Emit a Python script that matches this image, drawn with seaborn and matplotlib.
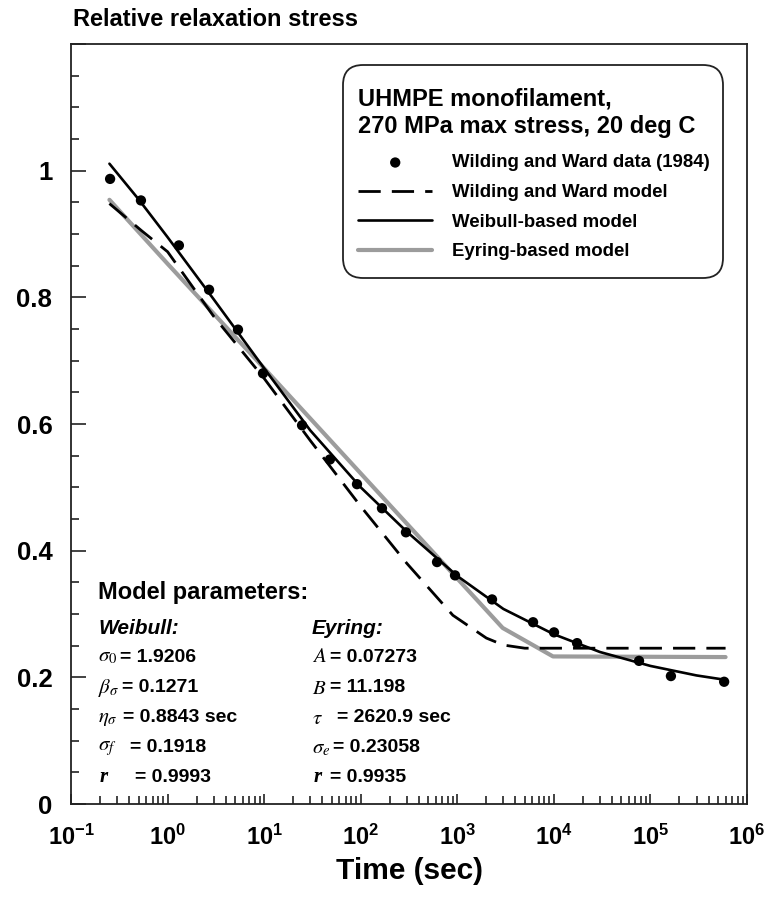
import numpy as np
import pandas as pd
import matplotlib
matplotlib.use('Agg')
import matplotlib.pyplot as plt
import seaborn as sns
from matplotlib.patches import FancyBboxPatch
from matplotlib.transforms import IdentityTransform
from matplotlib.ticker import FixedLocator, FixedFormatter, LogLocator, MultipleLocator, NullFormatter

# %% data
# Wilding and Ward (1984) measurements
data_time = [0.254, 0.53, 1.31, 2.69, 5.36, 9.73, 24.7, 48, 91.5, 166, 294, 617, 947,
             2290, 6090, 10040, 17400, 76200, 163000, 580000]
data_stress = [0.987, 0.953, 0.882, 0.812, 0.749, 0.680, 0.598, 0.544, 0.505, 0.467, 0.429,
               0.382, 0.361, 0.323, 0.287, 0.271, 0.254, 0.226, 0.202, 0.193]

# Wilding and Ward model (dashed)
ww_time = [0.25, 0.54, 1, 3, 10, 30, 100, 300, 900, 2000, 3000, 5000, 6e5]
ww_stress = [0.948, 0.905, 0.872, 0.770, 0.672, 0.574, 0.470, 0.380, 0.298, 0.262, 0.251, 0.246, 0.246]

# Weibull-based model (black)
wb_time = [0.25, 0.5, 1, 3, 10, 30, 100, 300, 1000, 3000, 1e4, 3e4, 1e5, 3e5, 6e5]
wb_stress = [1.011, 0.955, 0.895, 0.797, 0.688, 0.590, 0.500, 0.430, 0.360, 0.308, 0.268,
             0.240, 0.218, 0.203, 0.196]

# Eyring-based model (grey)
ey_time = [0.25, 1, 10, 100, 1000, 2950, 9800, 6e5]
ey_stress = [0.954, 0.853, 0.688, 0.522, 0.356, 0.278, 0.233, 0.232]

legend_labels = ['Wilding and Ward data (1984)', 'Wilding and Ward model',
                 'Weibull-based model', 'Eyring-based model']
legend_title = 'UHMPE monofilament,\n270 MPa max stress, 20 deg C'

weibull_syms = [r'$\sigma_{0}$', r'$\beta_{\sigma}$', r'$\eta_{\sigma}$', r'$\sigma_{f}$', 'r']
weibull_vals = ['= 1.9206', '= 0.1271', '= 0.8843 sec', '= 0.1918', '= 0.9993']
eyring_syms = [r'$A$', r'$B$', r'$\tau$', r'$\sigma_{e}$', 'r']
eyring_vals = ['= 0.07273', '= 11.198', '= 2620.9 sec', '= 0.23058', '= 0.9935']

xtick_vals = [1e-1, 1, 1e1, 1e2, 1e3, 1e4, 1e5, 1e6]
xtick_labels = [r'$\mathbf{10^{-1}}$', r'$\mathbf{10^{0}}$', r'$\mathbf{10^{1}}$', r'$\mathbf{10^{2}}$',
                r'$\mathbf{10^{3}}$', r'$\mathbf{10^{4}}$', r'$\mathbf{10^{5}}$', r'$\mathbf{10^{6}}$']
ytick_vals = [0, 0.2, 0.4, 0.6, 0.8, 1.0, 1.2]
ytick_labels = ['0', '0.2', '0.4', '0.6', '0.8', '1', '']

# %% style
sns.set_style('ticks')
plt.rcParams['font.family'] = ['Liberation Sans', 'DejaVu Sans']
plt.rcParams['mathtext.fontset'] = 'custom'
plt.rcParams['mathtext.rm'] = 'Liberation Sans:bold'
plt.rcParams['mathtext.bf'] = 'Liberation Sans:bold'
plt.rcParams['mathtext.it'] = 'Liberation Sans:italic:bold'
for k in ['text.color', 'axes.labelcolor', 'xtick.color', 'ytick.color']:
    plt.rcParams[k] = 'black'

W, H = 768, 898
fig = plt.figure(figsize=(W / 100, H / 100), dpi=100)
ax = fig.add_axes([71 / W, 1 - 804 / H, 676 / W, 760 / H])


def px(x, y):
    return x / W, 1 - y / H


GREY = '#9c9c9c'
sns.lineplot(x=ey_time, y=ey_stress, color=GREY, lw=3.0, ax=ax, sort=False,
             label=legend_labels[3], zorder=2)
sns.lineplot(x=ww_time, y=ww_stress, color='black', lw=2.0, ax=ax, sort=False,
             linestyle=(0, (8, 4)), label=legend_labels[1], zorder=3)
sns.lineplot(x=wb_time, y=wb_stress, color='black', lw=1.9, ax=ax, sort=False,
             label=legend_labels[2], zorder=4)
sns.scatterplot(x=data_time, y=data_stress, color='black', s=55, edgecolor='none', ax=ax,
                label=legend_labels[0], zorder=5)

ax.set_xscale('log')
ax.set_xlim(0.1, 1e6)
ax.set_ylim(0, 1.2)

ax.xaxis.set_major_locator(FixedLocator(xtick_vals))
ax.xaxis.set_major_formatter(FixedFormatter(xtick_labels))
ax.xaxis.set_minor_locator(LogLocator(base=10, subs=np.arange(2, 10), numticks=20))
ax.xaxis.set_minor_formatter(NullFormatter())
ax.yaxis.set_major_locator(FixedLocator(ytick_vals))
ax.yaxis.set_major_formatter(FixedFormatter(ytick_labels))
ax.yaxis.set_minor_locator(MultipleLocator(0.05))

ax.tick_params(axis='both', which='both', direction='in', color='#222222', width=1.2)
ax.tick_params(axis='y', which='major', length=11, pad=13.5, labelsize=18.5)
ax.tick_params(axis='y', which='minor', length=6)
ax.tick_params(axis='x', which='major', length=7, pad=15, labelsize=17)
ax.tick_params(axis='x', which='minor', length=6)
for lab in ax.get_yticklabels():
    lab.set_fontweight('bold')
for sp in ax.spines.values():
    sp.set_linewidth(1.3)
    sp.set_color('#222222')

ax.set_xlabel('Time (sec)', fontsize=21.5, fontweight='bold')
ax.xaxis.set_label_coords(0.5, -(871 - 804) / 760)
ax.xaxis.label.set_va('center')
ax.set_ylabel('')

fig.text(*px(73, 20), 'Relative relaxation stress', fontsize=17, fontweight='bold',
         ha='left', va='center')

# legend in the original order, drawn on a separate rounded frame
handles, labels = ax.get_legend_handles_labels()
order = [labels.index(l) for l in legend_labels]
leg = ax.legend([handles[i] for i in order], [labels[i] for i in order], title=legend_title,
                loc='upper left', bbox_to_anchor=((358 - 71) / 676, 1 - (87 - 44) / 760),
                borderaxespad=0, borderpad=0, prop={'weight': 'bold', 'size': 13.4},
                title_fontproperties={'weight': 'bold', 'size': 17},
                handlelength=4.0, handletextpad=1.05, labelspacing=0.68,
                frameon=False)
leg._legend_box.align = 'left'
leg._legend_box.sep = 11.5
leg.get_title().set_linespacing(1.3)
leg.set_zorder(8)

frame = FancyBboxPatch((343, H - 278), 723 - 343, 278 - 65,
                       boxstyle='round,pad=0,rounding_size=20', transform=IdentityTransform(),
                       facecolor='white', edgecolor='#222222', lw=1.3, clip_on=False, zorder=7)
ax.add_artist(frame)

# model parameter block
fig.text(*px(98, 592), 'Model parameters:', fontsize=17, fontweight='bold', va='center')
fig.text(*px(98, 628), 'Weibull:', fontsize=15, fontweight='bold', style='italic', va='center')
fig.text(*px(312, 628), 'Eyring:', fontsize=15, fontweight='bold', style='italic', va='center')
row_y = [657, 688, 718, 748, 777]
eq_x1 = [120, 122, 123, 130, 135]
eq_x2 = [330, 330, 337, 333, 330]
for i, y in enumerate(row_y):
    for sym, val, sx, ex in [(weibull_syms[i], weibull_vals[i], 98, eq_x1[i]),
                             (eyring_syms[i], eyring_vals[i], 312, eq_x2[i])]:
        if sym == 'r':
            fig.text(*px(sx + 2, y), 'r', fontsize=15, family='Liberation Serif',
                     style='italic', fontweight='bold', va='center')
        else:
            fig.text(*px(sx, y), sym, fontsize=15, math_fontfamily='stix', va='center')
        fig.text(*px(ex, y), val, fontsize=14, fontweight='bold', va='center')

fig.savefig('out.png', dpi=100)
